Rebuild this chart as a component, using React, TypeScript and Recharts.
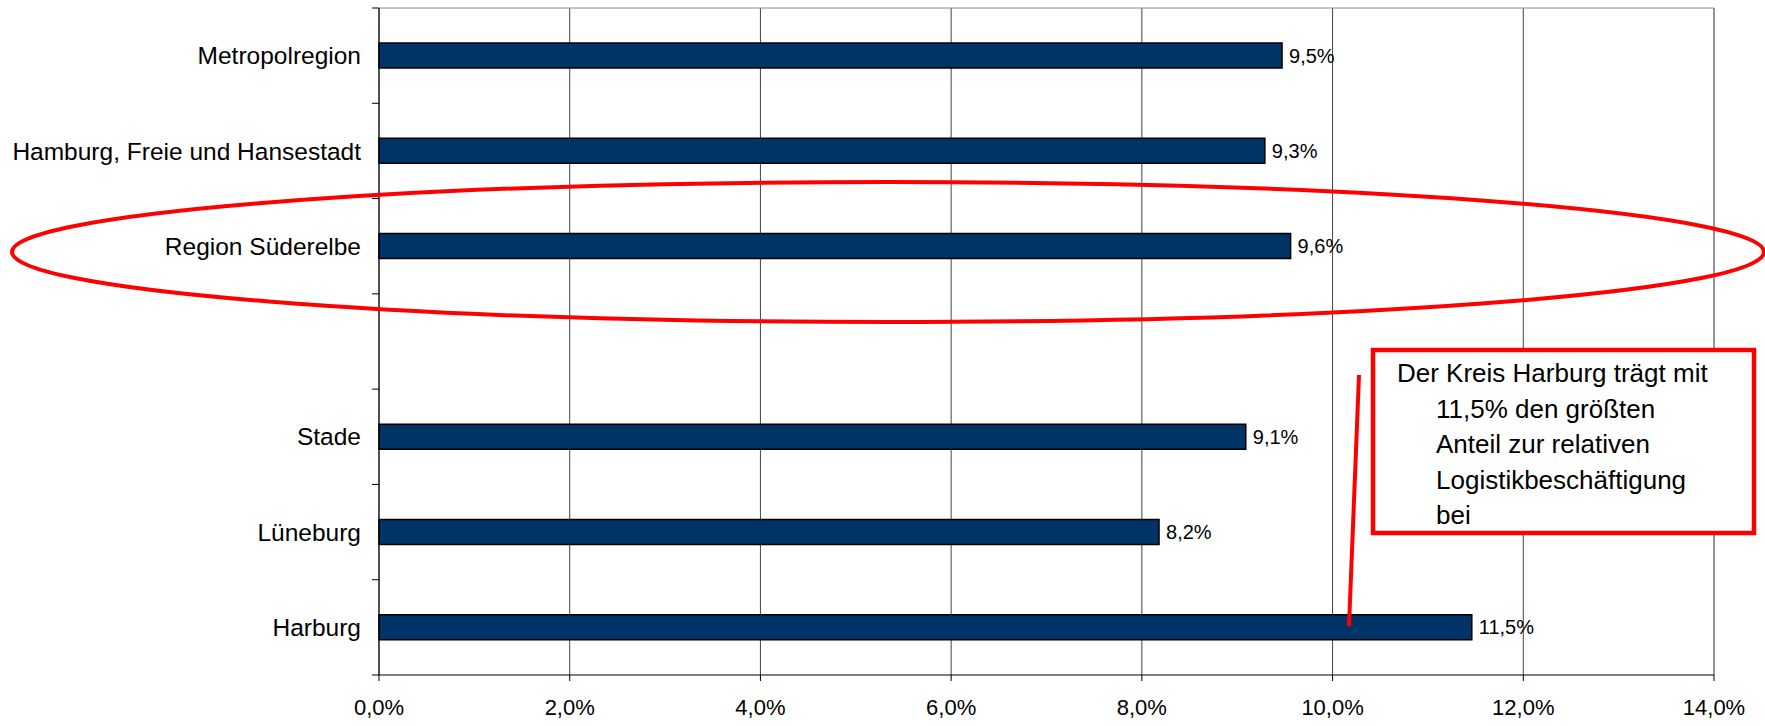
// Logistikbeschäftigung – horizontale Balken mit Hervorhebung Region Süderelbe
import { BarChart, Bar, XAxis, YAxis, CartesianGrid, LabelList, ReferenceLine } from 'recharts';

const categories = [
  'Metropolregion',
  'Hamburg, Freie und Hansestadt',
  'Region Süderelbe',
  '',
  'Stade',
  'Lüneburg',
  'Harburg',
];
const shares = [9.47, 9.29, 9.56, null, 9.09, 8.18, 11.46];
const xTicks = [0, 2, 4, 6, 8, 10, 12, 14];
const noteLines = [
  'Der Kreis Harburg trägt mit',
  '11,5% den größten',
  'Anteil zur relativen',
  'Logistikbeschäftigung',
  'bei',
];

const W = 1765;
const H = 726;
const TOP = 8;
const BOTTOM = 51;
const RIGHT = 51;
const Y_AXIS_W = 379;
const PLOT_H = H - TOP - BOTTOM;
const FONT = '"Liberation Sans", Arial, sans-serif';

const data = categories.map((name, i) => ({ name, value: shares[i] }));

const pct = (v: number) => v.toFixed(1).replace('.', ',') + '%';

// Kategorie-Label mittig, Teilstriche an den Grenzen der Kategorien
function CategoryTick(props: any) {
  const { y, payload, index } = props;
  const band = PLOT_H / categories.length;
  const x0 = Y_AXIS_W;
  return (
    <g>
      <line x1={x0 - 7} x2={x0} y1={y - band / 2} y2={y - band / 2} stroke="#000" />
      {index === categories.length - 1 && (
        <line x1={x0 - 7} x2={x0} y1={y + band / 2} y2={y + band / 2} stroke="#000" />
      )}
      <text
        x={x0 - 18}
        y={y}
        dy="0.355em"
        textAnchor="end"
        fontSize={24.5}
        fontFamily={FONT}
        fill="#000"
      >
        {payload.value}
      </text>
    </g>
  );
}

export default function App() {
  return (
    <div style={{ position: 'absolute', left: 0, top: 0, width: W, height: H, background: '#fff' }}>
      <BarChart
        width={W}
        height={H}
        data={data}
        layout="vertical"
        margin={{ top: TOP, right: RIGHT, bottom: 0, left: 0 }}
      >
        <CartesianGrid horizontal={false} stroke="#444" strokeWidth={1} />
        <CartesianGrid
          vertical={false}
          stroke="#888"
          horizontalCoordinatesGenerator={({ offset }: any) => [offset.top]}
        />
        <XAxis
          type="number"
          domain={[0, 14]}
          ticks={xTicks}
          height={BOTTOM}
          tickSize={6}
          tickMargin={18}
          tickFormatter={pct}
          tick={{ fontSize: 22, fill: '#000', fontFamily: FONT }}
          axisLine={{ stroke: '#000' }}
          tickLine={{ stroke: '#000' }}
          interval={0}
        />
        <YAxis
          type="category"
          dataKey="name"
          width={Y_AXIS_W}
          tickLine={false}
          axisLine={{ stroke: '#000' }}
          tick={<CategoryTick />}
          interval={0}
        />
        <ReferenceLine x={14} stroke="#888" />
        <Bar
          dataKey="value"
          fill="#003366"
          stroke="#000"
          strokeWidth={1.5}
          barSize={25}
          isAnimationActive={false}
        >
          <LabelList
            dataKey="value"
            position="right"
            offset={7}
            formatter={(v: any) => (v == null ? '' : pct(Number(v)))}
            style={{ fontSize: 20, fill: '#000', fontFamily: FONT }}
          />
        </Bar>
      </BarChart>

      {/* rote Hervorhebung und Kommentar */}
      <svg
        width={W}
        height={H}
        style={{ position: 'absolute', left: 0, top: 0, pointerEvents: 'none' }}
      >
        <ellipse cx={888} cy={252} rx={876} ry={70} fill="none" stroke="#ff0000" strokeWidth={4} />
        <line x1={1359} y1={375} x2={1349} y2={626} stroke="#ff0000" strokeWidth={4} />
        <rect x={1373} y={350} width={381} height={183} fill="#fff" stroke="#ff0000" strokeWidth={4.5} />
        {noteLines.map((t, i) => (
          <text
            key={i}
            x={i === 0 ? 1397 : 1436}
            y={373 + i * 35.5}
            dy="0.355em"
            fontSize={26}
            fontFamily={FONT}
            fill="#000"
          >
            {t}
          </text>
        ))}
      </svg>
    </div>
  );
}
